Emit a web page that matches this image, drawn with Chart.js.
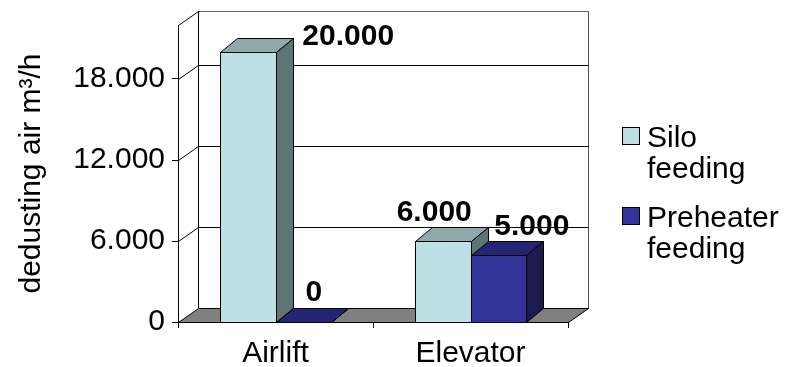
<!DOCTYPE html>
<html>
<head>
<meta charset="utf-8">
<script src="https://cdn.jsdelivr.net/npm/chart.js@4.4.1/dist/chart.umd.min.js"></script>
<style>
  html, body { margin: 0; padding: 0; background: #fff; }
  canvas { display: block; }
</style>
</head>
<body>
<canvas id="chart" width="788" height="367"></canvas>
<script>
const categories = ['Airlift', 'Elevator'];
const siloFeeding = [20000, 6000];
const preheaterFeeding = [0, 5000];
const seriesNames = [['Silo', 'feeding'], ['Preheater', 'feeding']];
const yTicks = [0, 6000, 12000, 18000];
const yMax = 22000;

const FONT = '"Liberation Sans", Arial, sans-serif';

// depth of walls/floor and of the bars
const WALL_DX = 20, WALL_DY = 14;
const BAR_DX = 17, BAR_DY = 14;

function formattedNumber(n) {
  return new Intl.NumberFormat('de-DE').format(n);
}

// crisp 1px lines
function px(v) {
  return Math.round(v) + 0.5;
}

function poly(ctx, pts, fill, stroke) {
  ctx.beginPath();
  ctx.moveTo(pts[0][0], pts[0][1]);
  for (let k = 1; k < pts.length; k++) ctx.lineTo(pts[k][0], pts[k][1]);
  ctx.closePath();
  if (fill) { ctx.fillStyle = fill; ctx.fill(); }
  if (stroke) { ctx.strokeStyle = stroke; ctx.stroke(); }
}

function line(ctx, x1, y1, x2, y2, color) {
  ctx.beginPath();
  ctx.moveTo(x1, y1);
  ctx.lineTo(x2, y2);
  ctx.strokeStyle = color;
  ctx.stroke();
}

// back wall, left wall and floor behind the axes
const wallsPlugin = {
  id: 'walls',
  beforeDraw(chart) {
    const { ctx, chartArea: a, scales: { y } } = chart;
    const L = px(a.left), R = px(a.right), T = px(a.top), B = px(a.bottom);
    ctx.save();
    ctx.lineWidth = 1;

    // back wall
    ctx.fillStyle = '#fff';
    ctx.fillRect(L + WALL_DX, T - WALL_DY, R - L, B - T);
    line(ctx, L + WALL_DX, T - WALL_DY, R + WALL_DX, T - WALL_DY, '#666');
    line(ctx, R + WALL_DX, T - WALL_DY, R + WALL_DX, B - WALL_DY, '#555');
    line(ctx, L + WALL_DX, T - WALL_DY, L + WALL_DX, B - WALL_DY, '#000');
    line(ctx, L, T, L + WALL_DX, T - WALL_DY, '#000');

    // gridlines on side wall and back wall
    yTicks.filter((v) => v > 0).forEach((v) => {
      const yy = px(y.getPixelForValue(v));
      ctx.beginPath();
      ctx.moveTo(L, yy);
      ctx.lineTo(L + WALL_DX, yy - WALL_DY);
      ctx.lineTo(R + WALL_DX, yy - WALL_DY);
      ctx.strokeStyle = '#000';
      ctx.stroke();
    });

    // floor
    poly(ctx, [[L, B], [R, B], [R + WALL_DX, B - WALL_DY], [L + WALL_DX, B - WALL_DY]], '#808080', '#000');
    ctx.restore();
  },
};

// bars drawn as boxes, group by group so the faces overlap properly
const bars3dPlugin = {
  id: 'bars3d',
  beforeDatasetsDraw(chart, args, opts) {
    const ctx = chart.ctx;
    ctx.save();
    ctx.lineWidth = 1;
    const labels = [];
    for (let j = 0; j < chart.data.labels.length; j++) {
      chart.data.datasets.forEach((ds, i) => {
        const bar = chart.getDatasetMeta(i).data[j];
        const { x, y, base, width } = bar.getProps(['x', 'y', 'base', 'width'], true);
        const l = px(x - width / 2), r = px(x + width / 2);
        const t = px(y), b = px(base);
        if (b - t > 0) {
          ctx.fillStyle = ds.backgroundColor;
          ctx.fillRect(l, t, r - l, b - t);
          ctx.strokeStyle = '#000';
          ctx.strokeRect(l, t, r - l, b - t);
        }
        poly(ctx, [[l, t], [r, t], [r + BAR_DX, t - BAR_DY], [l + BAR_DX, t - BAR_DY]], ds.topColor, '#000');
        poly(ctx, [[r, t], [r + BAR_DX, t - BAR_DY], [r + BAR_DX, b - BAR_DY], [r, b]], ds.sideColor, '#000');

        const shift = opts.labelShift[i][j];
        labels.push({
          text: formattedNumber(ds.data[j]),
          x: x + BAR_DX / 2 + shift[0],
          y: y - BAR_DY - 14 + shift[1],
        });
      });
    }

    ctx.font = 'bold 30px ' + FONT;
    ctx.fillStyle = '#000';
    ctx.textAlign = 'center';
    ctx.textBaseline = 'middle';
    labels.forEach((lb) => ctx.fillText(lb.text, lb.x, lb.y));
    ctx.restore();
    return false;
  },
};

// legend with two-line entries
const legendPlugin = {
  id: 'legend2',
  afterDraw(chart, args, opts) {
    const ctx = chart.ctx;
    ctx.save();
    ctx.font = '30px ' + FONT;
    ctx.textAlign = 'left';
    ctx.textBaseline = 'alphabetic';
    ctx.lineWidth = 1;
    chart.data.datasets.forEach((ds, i) => {
      const base = opts.y + i * opts.itemGap;
      ctx.fillStyle = ds.backgroundColor;
      ctx.fillRect(opts.x + 0.5, base - 19.5, opts.box, opts.box);
      ctx.strokeStyle = '#000';
      ctx.strokeRect(opts.x + 0.5, base - 19.5, opts.box, opts.box);
      ctx.fillStyle = '#000';
      seriesNames[i].forEach((txt, k) => {
        ctx.fillText(txt, opts.x + 25, base + k * opts.lineHeight);
      });
    });
    ctx.restore();
  },
};

const tickFont = { family: FONT, size: 30 };

new Chart(document.getElementById('chart'), {
  type: 'bar',
  data: {
    labels: categories,
    datasets: [
      {
        label: seriesNames[0].join(' '),
        data: siloFeeding,
        backgroundColor: '#BCE0E3',
        topColor: '#8FAAAB',
        sideColor: '#5F7474',
      },
      {
        label: seriesNames[1].join(' '),
        data: preheaterFeeding,
        backgroundColor: '#333399',
        topColor: '#252573',
        sideColor: '#1B1B4E',
      },
    ],
  },
  options: {
    responsive: false,
    animation: false,
    layout: { padding: { top: 25, right: 220, left: 0, bottom: 0 } },
    datasets: {
      bar: { barPercentage: 1, categoryPercentage: 0.57 },
    },
    scales: {
      x: {
        grid: { offset: true, drawOnChartArea: false, tickLength: 6, color: '#000' },
        border: { display: true, color: '#000' },
        ticks: { font: tickFont, color: '#000', padding: 8 },
        afterFit(scale) { scale.height = 45; },
      },
      y: {
        min: 0,
        max: yMax,
        afterBuildTicks(scale) {
          scale.ticks = yTicks.map((v) => ({ value: v }));
        },
        grid: { drawOnChartArea: false, tickLength: 6, color: '#000' },
        border: { display: true, color: '#000' },
        ticks: {
          font: tickFont,
          color: '#000',
          padding: 7,
          callback: (v) => formattedNumber(v),
        },
        title: {
          display: true,
          text: 'dedusting air m³/h',
          font: tickFont,
          color: '#000',
          padding: { top: 14, bottom: 0 },
        },
        afterFit(scale) { scale.width = 178; },
      },
    },
    plugins: {
      legend: { display: false },
      tooltip: { enabled: false },
      bars3d: {
        // nudges for the value labels, per series and category
        labelShift: [
          [[92, 13], [-17, 0]],
          [[2, -1], [25, 0]],
        ],
      },
      legend2: { x: 622, y: 147, lineHeight: 31, itemGap: 80, box: 17 },
    },
  },
  plugins: [wallsPlugin, bars3dPlugin, legendPlugin],
});
</script>
</body>
</html>
